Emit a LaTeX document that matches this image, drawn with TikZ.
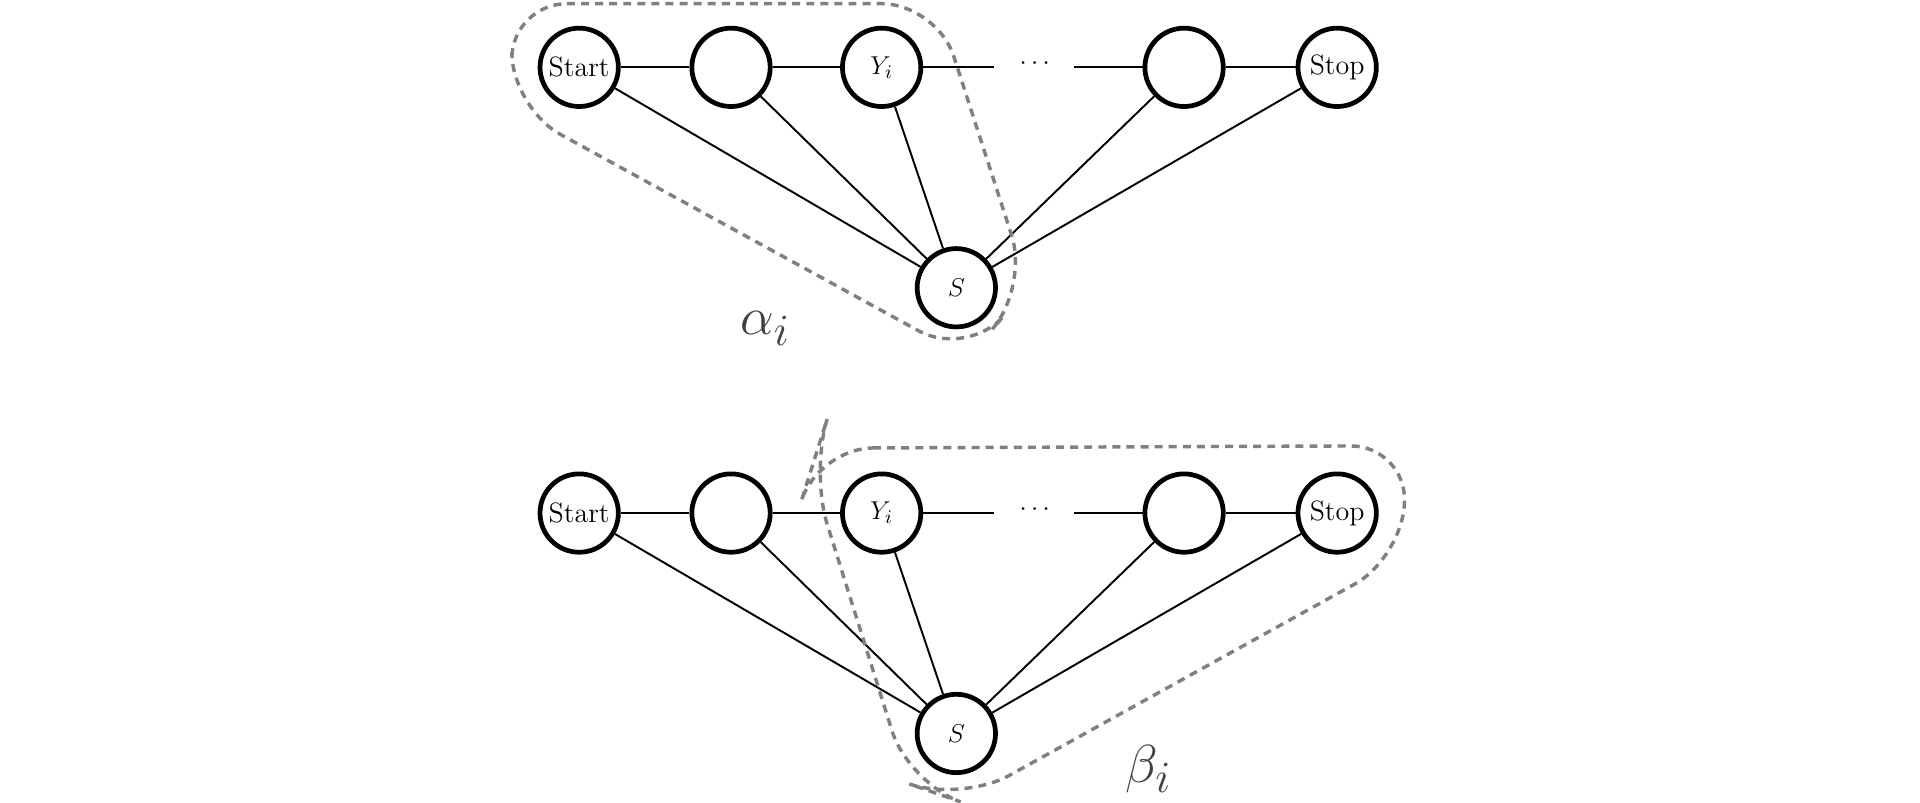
\documentclass[tikz,border=0pt]{standalone}
\begin{document}
\begin{tikzpicture}[x=0.02cm,y=-0.02cm,
  nd/.style={circle,draw,line width=2.2pt,minimum size=1.28cm,inner sep=0pt,font=\fontsize{13}{15}\selectfont},
  ed/.style={line width=0.9pt},
  hull/.style={draw=gray,dashed,line width=1.6pt,dash pattern=on 0.13cm off 0.1cm,rounded corners=0.9cm},
  lab/.style={text=black!75,font=\fontsize{30}{34}\selectfont}]
\useasboundingbox (0,0) rectangle (1568,655);
\foreach \r/\dy in {t/0,b/364}{
  \begin{scope}[shift={(0,\dy)}]
  \node[nd] (\r1) at (473,55) {Start};
  \node[nd] (\r2) at (597,55) {};
  \node[nd] (\r3) at (720,55) {$Y_i$};
  \node[nd] (\r4) at (967,55) {};
  \node[nd] (\r5) at (1092,55) {Stop};
  \node[nd] (\r S) at (781,235) {$S$};
  \node[font=\fontsize{13}{15}\selectfont] (\r d) at (845,52) {$\cdots$};
  \coordinate (\r a) at (812,55);
  \coordinate (\r b) at (877,55);
  \end{scope}
  \draw[ed] (\r1)--(\r2) (\r2)--(\r3) (\r3)--(\r a) (\r b)--(\r4) (\r4)--(\r5);
  \foreach \k in {1,...,5}{\draw[ed] (\r\k)--(\r S);}
}
\draw[hull] (418,3) -- (765,3) -- (840,235) -- (790,292) -- (418,88) -- cycle;
\draw[hull] (668,366) -- (1148,364) -- (1146,455) -- (785,655) -- (742,640) -- (662,385) -- cycle;
\node[lab] (al) at (625,268) {$\alpha_i$};
\node[lab] (be) at (938,628) {$\beta_i$};
\end{tikzpicture}
\end{document}
